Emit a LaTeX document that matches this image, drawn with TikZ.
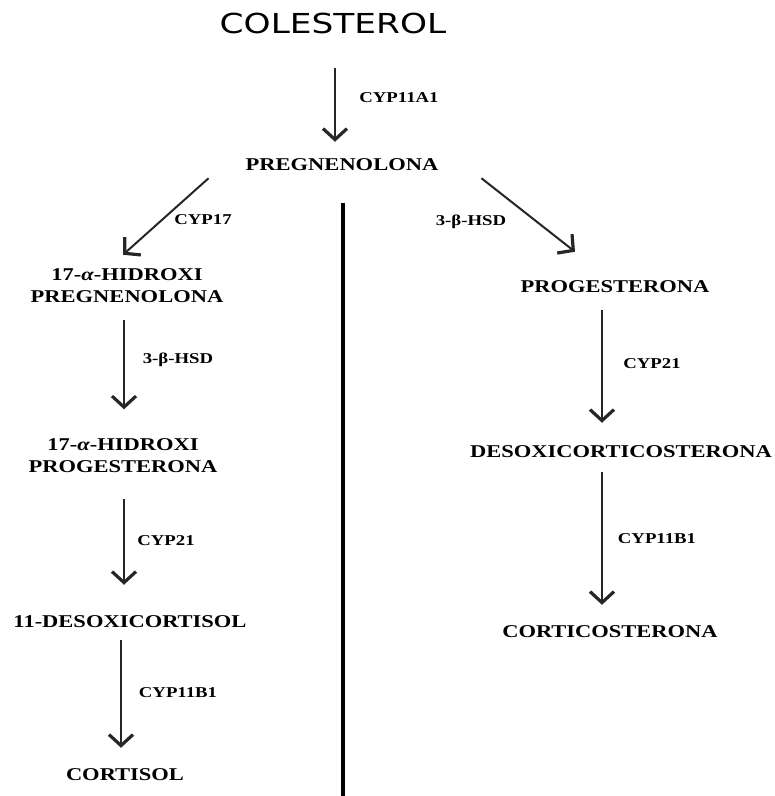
\documentclass[tikz,border=0pt]{standalone}
\usepackage{fontspec}
\setmainfont{Liberation Serif}[FakeStretch=1.25]
\newfontfamily\colfont{DejaVu Sans}[FakeStretch=1.25]
\usetikzlibrary{arrows.meta}
\begin{document}
\begin{tikzpicture}[x=1pt,y=-1pt,
  compound/.style={inner sep=0pt,align=center,font=\fontsize{18}{22}\selectfont\bfseries},
  enzyme/.style={inner sep=0pt,font=\fontsize{15}{18}\selectfont\bfseries},
  title/.style={inner sep=0pt,font=\fontsize{27.5}{32}\selectfont\colfont},
  arr/.style={line width=2pt,draw=black!85,-{Straight Barb[length=11pt,width=24pt,line width=3.2pt]}},
  divider/.style={line width=3.8pt,draw=black}]
\useasboundingbox (0,0) rectangle (775,796);
\node[title] (col) at (333,23) {COLESTEROL};
\node[compound] (preg) at (342,165) {PREGNENOLONA};
\node[compound] (hp) at (127,286) {17-\textit{α}-HIDROXI\\PREGNENOLONA};
\node[compound] (hprog) at (123,455.5) {17-\textit{α}-HIDROXI\\PROGESTERONA};
\node[compound] (deso) at (130,622) {11-DESOXICORTISOL};
\node[compound] (cort) at (125,775) {CORTISOL};
\node[compound] (prog) at (615,287) {PROGESTERONA};
\node[compound] (doc) at (621,452) {DESOXICORTICOSTERONA};
\node[compound] (ctc) at (610,632) {CORTICOSTERONA};
% enzyme labels
\node[enzyme] (e1) at (399,98) {CYP11A1};
\node[enzyme] (e2) at (203,220) {CYP17};
\node[enzyme] (e3) at (471,222) {3-β-HSD};
\node[enzyme] (e4) at (178,360) {3-β-HSD};
\node[enzyme] (e5) at (166,541) {CYP21};
\node[enzyme] (e6) at (178,693) {CYP11B1};
\node[enzyme] (e7) at (652,364) {CYP21};
\node[enzyme] (e8) at (657,539) {CYP11B1};
% arrows
\draw[arr] ([shift={(2,34)}]col.south) -- ([shift={(-7,-17)}]preg.north);
\draw[arr] ([shift={(-37,7)}]preg.south west) -- ([shift={(-4,-14)}]hp.north);
\draw[arr] ([shift={(43,7)}]preg.south east) -- ([shift={(-40,-29)}]prog.north);
\draw[arr] ([shift={(-3,17)}]hp.south) -- ([shift={(1,-29)}]hprog.north);
\draw[arr] ([shift={(1,26)}]hprog.south) -- ([shift={(-6,-31)}]deso.north);
\draw[arr] ([shift={(-9,12)}]deso.south) -- ([shift={(-4,-21)}]cort.north);
\draw[arr] ([shift={(-13,17)}]prog.south) -- ([shift={(-19,-23)}]doc.north);
\draw[arr] ([shift={(-19,14)}]doc.south) -- ([shift={(-8,-21)}]ctc.north);
% divider
\coordinate (bot) at (343,796);
\draw[divider] ([shift={(1,32)}]preg.south) -- (bot);
\end{tikzpicture}
\end{document}
